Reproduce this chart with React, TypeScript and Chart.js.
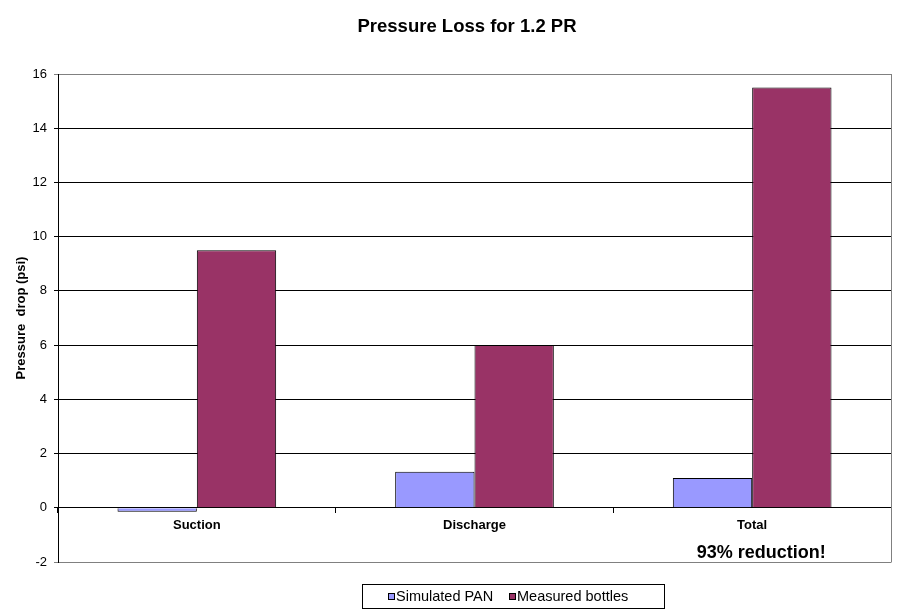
import React, { useEffect, useRef } from "react";
import { Chart, registerables } from "chart.js";

Chart.register(...registerables);

const chartTitle = "Pressure Loss for 1.2 PR";
const yAxisTitle = "Pressure  drop (psi)";
const categories = ["Suction", "Discharge", "Total"];
const seriesNames = ["Simulated PAN", "Measured bottles"];
const simulatedPAN = [-0.15, 1.33, 1.1];
const measuredBottles = [9.5, 6.0, 15.5];
const seriesColors = ["#9999FF", "#993366"];
const yMin = -2;
const yMax = 16;
const yStep = 2;
const annotationText = "93% reduction!";
const annotationCategory = 2;
const annotationValue = -1.68;

const FONT = "Arial, 'Liberation Sans', sans-serif";
const GRAY = "#808080";

const decorPlugin = {
  id: "decor",
  beforeDatasetsDraw(chart: any) {
    const { ctx, chartArea } = chart;
    ctx.save();
    ctx.strokeStyle = GRAY;
    ctx.lineWidth = 1;
    ctx.beginPath();
    const x = Math.round(chartArea.right) + 0.5;
    ctx.moveTo(x, chartArea.top);
    ctx.lineTo(x, chartArea.bottom + 0.5);
    ctx.stroke();
    ctx.restore();
  },
  afterDraw(chart: any) {
    const { ctx, scales } = chart;
    ctx.save();
    // title
    ctx.fillStyle = "#000";
    ctx.font = `bold 18.5px ${FONT}`;
    ctx.textAlign = "center";
    ctx.textBaseline = "middle";
    ctx.fillText(chartTitle, 467, 27);

    // annotation
    ctx.font = `bold 18px ${FONT}`;
    const ax = scales.x.getPixelForValue(annotationCategory) + 9;
    const ay = scales.y.getPixelForValue(annotationValue);
    ctx.fillText(annotationText, ax, ay);

    // legend
    const bx = 362.5, by = 584.5, bw = 302, bh = 24;
    ctx.fillStyle = "#fff";
    ctx.fillRect(bx, by, bw, bh);
    ctx.strokeStyle = "#000";
    ctx.lineWidth = 1;
    ctx.strokeRect(bx, by, bw, bh);
    ctx.font = `14.5px ${FONT}`;
    ctx.textAlign = "left";
    ctx.textBaseline = "middle";
    const itemX = [388, 509];
    chart.data.datasets.forEach((ds: any, i: number) => {
      const sx = itemX[i];
      const sy = 593;
      ctx.fillStyle = ds.backgroundColor;
      ctx.fillRect(sx, sy, 7, 7);
      ctx.strokeStyle = "#000";
      ctx.strokeRect(sx + 0.5, sy + 0.5, 6, 6);
      ctx.fillStyle = "#000";
      ctx.fillText(ds.label, sx + 8, 597);
    });
    ctx.restore();
  },
};

export default function App() {
  const canvasRef = useRef<HTMLCanvasElement | null>(null);

  useEffect(() => {
    document.body.style.margin = "0";
    const canvas = canvasRef.current;
    if (!canvas) return;
    const chart = new Chart(canvas, {
      type: "bar",
      data: {
        labels: categories,
        datasets: [
          {
            label: seriesNames[0],
            data: simulatedPAN,
            backgroundColor: seriesColors[0],
            borderColor: "#000",
            borderWidth: 1,
            categoryPercentage: 1 / 1.75,
            barPercentage: 1,
          },
          {
            label: seriesNames[1],
            data: measuredBottles,
            backgroundColor: seriesColors[1],
            borderColor: "#000",
            borderWidth: 1,
            categoryPercentage: 1 / 1.75,
            barPercentage: 1,
          },
        ],
      },
      options: {
        animation: false,
        responsive: true,
        maintainAspectRatio: false,
        layout: { padding: { left: 0, top: 74, right: 9, bottom: 50 } },
        plugins: {
          legend: { display: false },
          title: { display: false },
          tooltip: { enabled: false },
        },
        scales: {
          x: {
            position: { y: 0 } as any,
            offset: true,
            grid: {
              display: true,
              offset: true,
              drawOnChartArea: false,
              drawTicks: true,
              tickLength: 5,
              color: "#000",
            },
            border: { display: true, color: "#000", width: 1 },
            ticks: {
              color: "#000",
              font: { family: FONT, size: 13, weight: "bold" },
              padding: 5,
              maxRotation: 0,
            },
          },
          y: {
            min: yMin,
            max: yMax,
            afterFit: (scale: any) => {
              scale.width = 58;
            },
            ticks: {
              stepSize: yStep,
              color: "#000",
              font: { family: FONT, size: 13 },
              padding: 7,
            },
            grid: {
              color: (ctx: any) => {
                const v = ctx.tick ? ctx.tick.value : 0;
                return v === yMin || v === yMax ? GRAY : "#000";
              },
              tickLength: 4,
              drawTicks: true,
            },
            border: { display: true, color: "#000", width: 1 },
            title: {
              display: true,
              text: yAxisTitle,
              color: "#000",
              font: { family: FONT, size: 13, weight: "bold" },
              padding: { top: 14, bottom: 0 },
            },
          },
        },
      },
      plugins: [decorPlugin],
    });
    return () => chart.destroy();
  }, []);

  return (
    <div style={{ width: 900, height: 612, position: "relative", background: "#fff" }}>
      <canvas ref={canvasRef} />
    </div>
  );
}
